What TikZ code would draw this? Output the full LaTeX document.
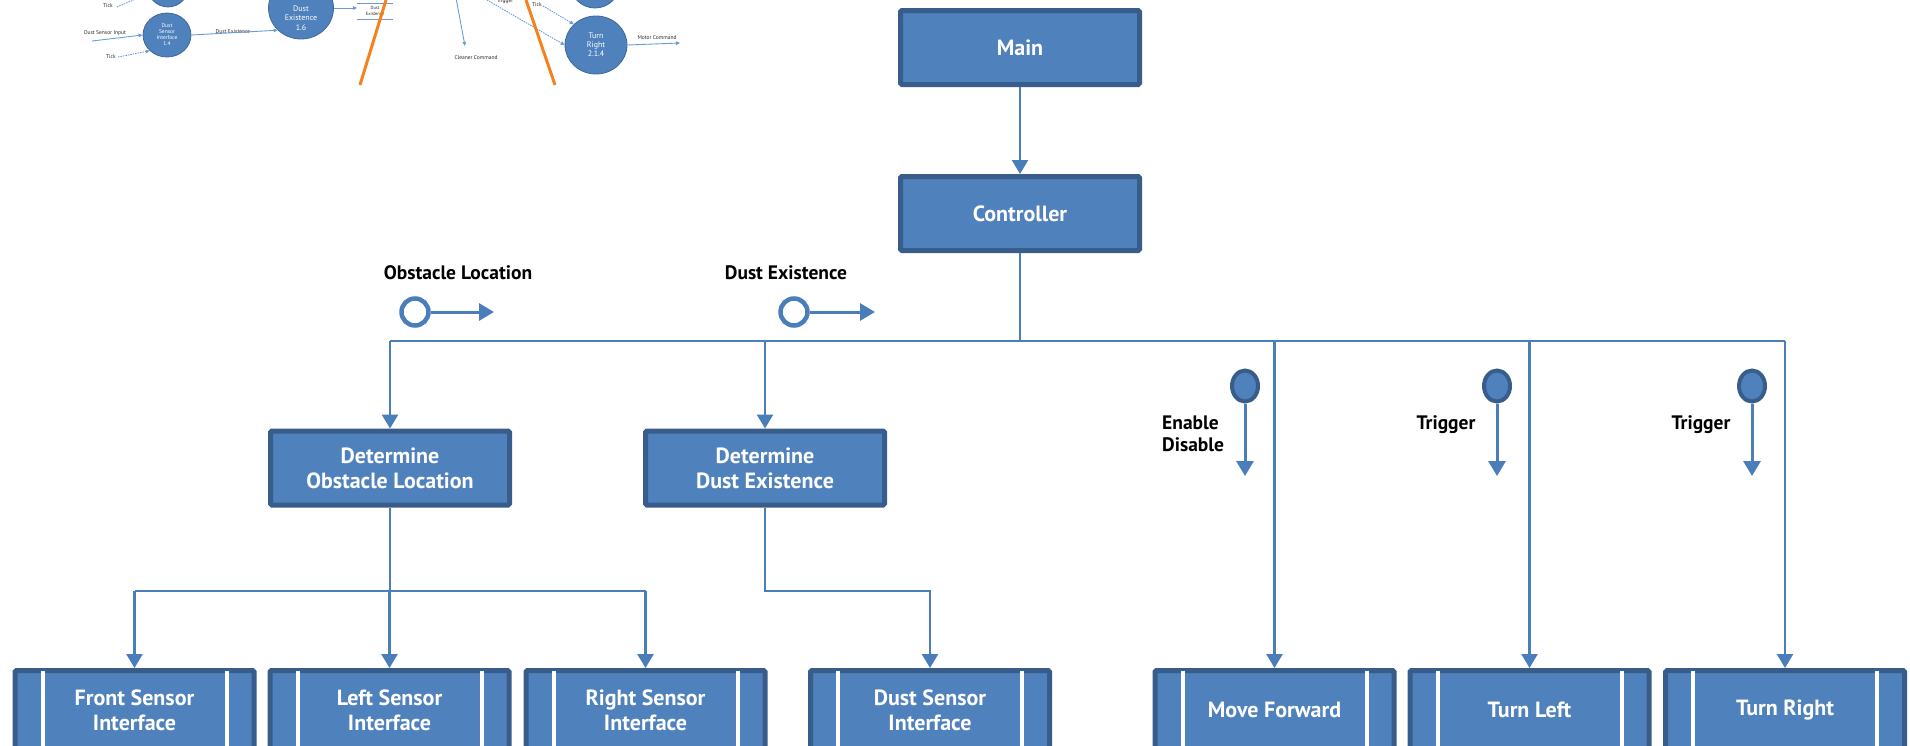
\documentclass[tikz,border=0pt]{standalone}
\usepackage{fontspec}
\setmainfont{PT Sans}
\usetikzlibrary{arrows.meta,shapes.geometric}
\definecolor{fillb}{HTML}{4F81BD}
\definecolor{edgeb}{HTML}{385D8A}
\definecolor{lineb}{HTML}{4A7EBB}
\definecolor{orng}{HTML}{F58220}
\definecolor{dfdl}{HTML}{6A9BD8}
\begin{document}
\begin{tikzpicture}[x=1pt,y=-1pt,
  box/.style={draw=edgeb, fill=fillb, line width=5pt, rounded corners=1.5pt,
    minimum width=239pt, minimum height=74pt, inner sep=0pt, text=white,
    font=\fontsize{22}{25}\selectfont\bfseries, align=center},
  pbox/.style={box, minimum height=79pt},
  pbar/.style={draw=white, line width=4pt},
  conn/.style={draw=lineb, line width=2.6pt},
  arr/.style={conn, -{Triangle[length=14pt,width=16pt]}},
  lbl/.style={font=\fontsize{19.5}{22}\selectfont\bfseries, text=black, inner sep=0pt},
  obul/.style={circle, draw=lineb, fill=white, line width=4.5pt, minimum size=27pt, inner sep=0pt},
  sbul/.style={ellipse, draw=edgeb, fill=fillb, line width=4pt, minimum width=26pt, minimum height=31pt, inner sep=0pt},
  barr/.style={draw=lineb, line width=3pt, -{Triangle[length=15pt,width=17pt]}},
  dfdc/.style={ellipse, draw=edgeb!70!fillb, fill=fillb, line width=0.8pt, inner sep=0pt, text=white, align=center},
  dfdt/.style={font=\fontsize{5.5}{6.5}\selectfont, inner sep=0pt, text=black!85},
  dfda/.style={draw=dfdl, line width=0.9pt, -{Triangle[length=4pt,width=3.5pt]}},
  dfdd/.style={dfda, dashed, dash pattern=on 1.5pt off 1pt},
  orl/.style={draw=orng, line width=3pt}
]
\useasboundingbox (0,0) rectangle (1910,745);
\clip (0,0) rectangle (1910,745);

% ---------- embedded DFD fragment (top left) ----------
\node[dfdc, minimum width=42pt, minimum height=44pt] (c0) at (168,-15) {};
\node[dfdc, minimum width=48pt, minimum height=44pt, font=\fontsize{5.5}{6}\selectfont] (dsi) at (167,35) {Dust\\Sensor\\Interface\\1.4};
\node[dfdc, minimum width=65pt, minimum height=62pt] (dex) at (301,8) {};
\node[text=white, align=center, inner sep=0pt, font=\fontsize{8}{9.5}\selectfont] (dext) at (301,18) {Dust\\Existence\\1.6};
\node[dfdc, minimum width=50pt, minimum height=50pt] (c1) at (595,-17) {};
\node[dfdc, minimum width=62pt, minimum height=58pt, font=\fontsize{8}{9}\selectfont] (tr) at (596,45) {Turn\\Right\\2.1.4};
\node[dfdt, font=\fontsize{4.5}{5.5}\selectfont, align=center] (store) at (375,11) {Dust\\Existence};
\coordinate (st1) at (357,3); \coordinate (st2) at (393,3);
\coordinate (st3) at (357,19); \coordinate (st4) at (393,19);
\draw[draw=dfdl, line width=0.8pt] (st1) -- (st2) (st3) -- (st4);

\node[dfdt] (tick1) at (108,6) {Tick};
\node[dfdt] (dsin) at (105,33) {Dust Sensor Input};
\node[dfdt] (tick2) at (111,57) {Tick};
\node[dfdt] (dexl) at (233,32) {Dust Existence};
\node[dfdt] (clean) at (476,58) {Cleaner Command};
\node[dfdt] (trig) at (505,1) {Trigger};
\node[dfdt] (tick3) at (537,5) {Tick};
\node[dfdt] (motor) at (657,38) {Motor Command};

\coordinate (a1) at (117,7);
\coordinate (a2) at (92,41);
\coordinate (a3) at (118,57);
\coordinate (a4) at (456,-2);
\coordinate (a5) at (465,46);
\coordinate (a6) at (487,0);
\coordinate (a7) at (543,6);
\coordinate (a8) at (680,43);
\draw[dfdd] (a1) -- (c0);
\draw[dfda] (a2) -- (dsi.west);
\draw[dfdd] (a3) -- (dsi.south west);
\draw[dfda] (dsi.east) -- (dex.south west);
\draw[dfda] (dex.east) -- (dex.east -| st1);
\draw[dfda] (a4) -- (a5);
\draw[dfdd] (a6) -- (tr.west);
\draw[dfdd] (a7) -- (tr.north west);
\draw[dfda] (tr.east) -- (a8);

\coordinate (o1a) at (386,0); \coordinate (o1b) at (360,85);
\coordinate (o2a) at (526,0); \coordinate (o2b) at (555,85);
\draw[orl] (o1a) -- (o1b);
\draw[orl] (o2a) -- (o2b);

% ---------- structure chart ----------
\node[box] (main) at (1020,47.5) {Main};
\node[box] (ctrl) at (1020,213.5) {Controller};
\node[box] (detobs) at (390,468) {Determine\\Obstacle Location};
\node[box] (detdust) at (765,468) {Determine\\Dust Existence};

\node[pbox] (fs) at (134.5,710) {Front Sensor\\Interface};
\node[pbox] (ls) at (389.5,710) {Left Sensor\\Interface};
\node[pbox] (rs) at (645.5,710) {Right Sensor\\Interface};
\node[pbox] (ds) at (930,710) {Dust Sensor\\Interface};
\node[pbox] (mf) at (1274.5,710) {Move Forward};
\node[pbox] (tl) at (1529.5,710) {Turn Left};
\node[pbox] (trr) at (1785,710) {Turn Right};

\foreach \n in {fs,ls,rs,ds,mf,tl,trr}{
  \draw[pbar] ([xshift=30pt,yshift=-2.5pt]\n.north west) -- ([xshift=30pt]\n.south west);
  \draw[pbar] ([xshift=-30pt,yshift=-2.5pt]\n.north east) -- ([xshift=-30pt]\n.south east);
}

% connectors
\coordinate (bus) at (1020,341);
\draw[arr] (main.south) -- (ctrl.north);
\draw[conn] (ctrl.south) -- (bus);
\draw[conn] (bus -| detobs) -- (bus -| trr);
\draw[arr] (bus -| detobs) -- (detobs.north);
\draw[arr] (bus -| detdust) -- (detdust.north);
\draw[arr] (bus -| mf) -- (mf.north);
\draw[arr] (bus -| tl) -- (tl.north);
\draw[arr] (bus -| trr) -- (trr.north);

\coordinate (obus) at (390,591);
\coordinate (dbus) at (765,591);
\draw[conn] (detobs.south) -- (obus);
\draw[conn] (obus -| fs) -- (obus -| rs);
\draw[arr] (obus -| fs) -- (fs.north);
\draw[arr] (obus -| ls) -- (ls.north);
\draw[arr] (obus -| rs) -- (rs.north);
\draw[arr] (detdust.south) -- (dbus) -| (ds.north);

% data couples (open)
\node[obul] (ob1) at (415,312) {};
\node[obul] (ob2) at (794,312) {};
\coordinate (ob1e) at (494,312);
\coordinate (ob2e) at (875,312);
\draw[barr] (ob1.east) -- (ob1e);
\draw[barr] (ob2.east) -- (ob2e);
\node[lbl] (obl) at (458,273) {Obstacle Location};
\node[lbl] (dul) at (786,273) {Dust Existence};

% control couples (solid)
\node[sbul] (sb1) at (1245,386) {};
\node[sbul] (sb2) at (1497,386) {};
\node[sbul] (sb3) at (1752,386) {};
\coordinate (sb1e) at (1245,476);
\coordinate (sb2e) at (1497,476);
\coordinate (sb3e) at (1752,476);
\draw[barr] (sb1.south) -- (sb1e);
\draw[barr] (sb2.south) -- (sb2e);
\draw[barr] (sb3.south) -- (sb3e);
\node[lbl, anchor=west, align=left, font=\fontsize{19.5}{22}\selectfont\bfseries] (edl) at (1162,434) {Enable\\Disable};
\node[lbl] (tg1) at (1446,425) {Trigger};
\node[lbl] (tg2) at (1701,425) {Trigger};
\end{tikzpicture}
\end{document}
